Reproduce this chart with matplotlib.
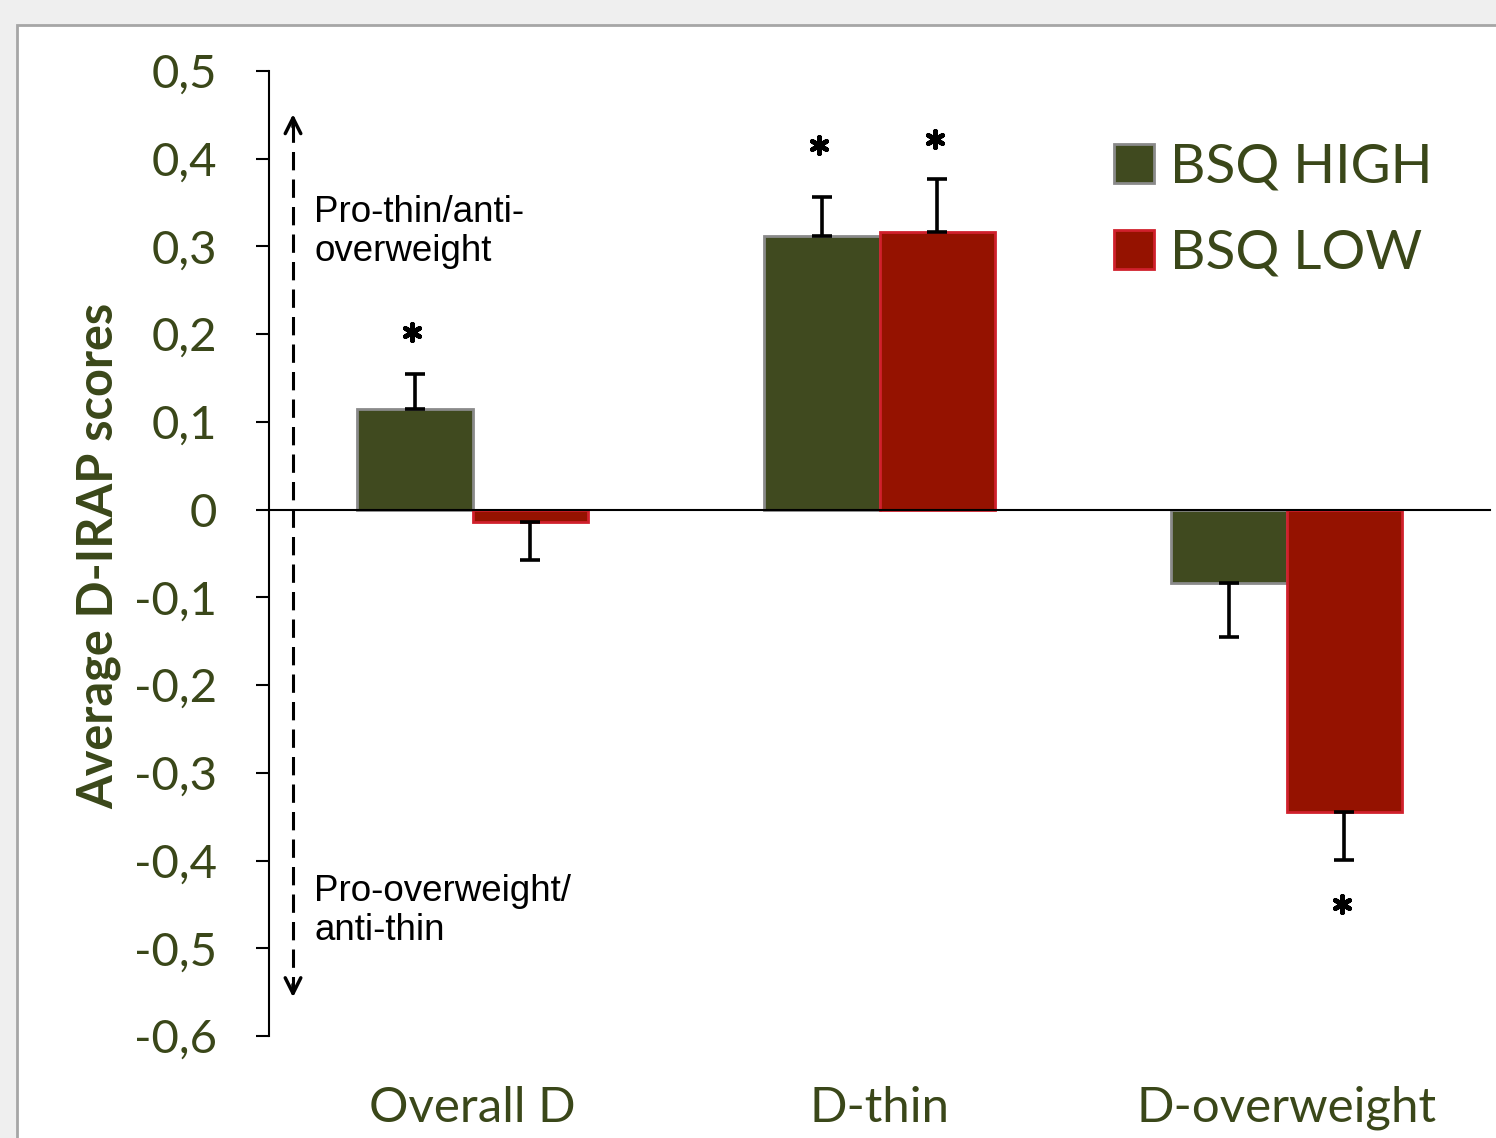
import numpy as np
import matplotlib
matplotlib.use('Agg')
import matplotlib.pyplot as plt
from matplotlib.patches import Rectangle

# mean D-IRAP scores per group
categories = ['Overall D', 'D-thin', 'D-overweight']
high = [0.115, 0.312, -0.084]
high_err = [0.040, 0.044, 0.061]
low = [-0.014, 0.316, -0.345]
low_err = [0.043, 0.061, 0.054]

# significance stars: (category, group offset sign, y)
star_cat = [0, 1, 1, 2]
star_grp = [-1, -1, 1, 1]
star_y = [0.203, 0.416, 0.422, -0.450]

yticks = [0.5, 0.4, 0.3, 0.2, 0.1, 0, -0.1, -0.2, -0.3, -0.4, -0.5, -0.6]

green_txt = '#3a4719'
c_high, e_high = '#404a1f', '#8a8a8a'
c_low, e_low = '#951200', '#d0202c'

fig = plt.figure(figsize=(14.96, 11.38), dpi=100, facecolor='#efefef')
fig.patches.append(Rectangle((17 / 1496, -0.01), 1.1, 1 - 25 / 1138 + 0.01,
                             transform=fig.transFigure, facecolor='white',
                             edgecolor='#a6a6a6', lw=2, zorder=-5))

ax = fig.add_axes([269 / 1496, 1 - 1036 / 1138, (1490 - 269) / 1496, (1036 - 71) / 1138])
ax.patch.set_alpha(0)

x = np.arange(len(categories))
w = 0.285


def one_sided(vals, errs):
    vals, errs = np.array(vals), np.array(errs)
    lower = np.where(vals < 0, errs, 0)
    upper = np.where(vals >= 0, errs, 0)
    return [lower, upper]


ekw = dict(ecolor='black', elinewidth=2.6, capsize=7.5, capthick=2.6)
ax.bar(x - w / 2, high, w, color=c_high, edgecolor=e_high, lw=2,
       yerr=one_sided(high, high_err), error_kw=ekw, label='BSQ HIGH', zorder=2)
ax.bar(x + w / 2, low, w, color=c_low, edgecolor=e_low, lw=2,
       yerr=one_sided(low, low_err), error_kw=ekw, label='BSQ LOW', zorder=2)

ax.scatter(x[star_cat] + np.array(star_grp) * w / 2 - 0.005, star_y, marker=(6, 2, 0),
           s=140, linewidths=3.4, color='black', zorder=3)

ax.set_xlim(-0.5, 2.5)
ax.set_ylim(-0.6, 0.5)
ax.spines['top'].set_visible(False)
ax.spines['right'].set_visible(False)
ax.spines['bottom'].set_position(('data', 0))
ax.spines['bottom'].set_linewidth(1.5)
ax.spines['left'].set_linewidth(1.5)
ax.set_xticks([])
ax.set_yticks(yticks)
ax.set_yticklabels([('%g' % t).replace('.', ',') for t in yticks],
                   fontfamily='Lato', fontsize=34, color=green_txt)
ax.tick_params(axis='y', direction='out', length=9.5, width=1.5, pad=28)

for xi, name in zip(x, categories):
    ax.text(xi, -0.0746, name, transform=ax.get_xaxis_transform(), ha='center', va='center',
            fontfamily='Lato', fontsize=35.5, color=green_txt)

fig.text(99 / 1496, 1 - 556 / 1138, 'Average D-IRAP scores', rotation=90, ha='center', va='center',
         fontfamily='Lato', fontweight='bold', fontsize=35, color=green_txt)

# dashed double arrow next to the axis
ax_x = -0.441
ax.plot([ax_x, ax_x], [0.44, -0.548], ls=(0, (6, 3)), color='black', lw=2.2, zorder=1)
ax.annotate('', xy=(ax_x, 0.454), xytext=(ax_x, 0.433),
            arrowprops=dict(arrowstyle='->', lw=2.5, mutation_scale=28, color='black'))
ax.annotate('', xy=(ax_x, -0.559), xytext=(ax_x, -0.538),
            arrowprops=dict(arrowstyle='->', lw=2.5, mutation_scale=28, color='black'))

ax.text(-0.389, 0.316, 'Pro-thin/anti-\noverweight', ha='left', va='center',
        fontfamily='Liberation Sans', fontsize=26.5, linespacing=1.15, color='black')
ax.text(-0.389, -0.458, 'Pro-overweight/\nanti-thin', ha='left', va='center',
        fontfamily='Liberation Sans', fontsize=26.5, linespacing=1.15, color='black')

leg = ax.legend(loc='upper left', bbox_to_anchor=(1087 / 1496, 1 - 115 / 1138),
                bbox_transform=fig.transFigure, frameon=False, borderpad=0,
                handlelength=0.72, handleheight=0.72, handletextpad=0.3, labelspacing=0.68,
                prop={'family': 'Lato', 'size': 39.5}, labelcolor=green_txt)

fig.savefig('out.png', dpi=100, facecolor=fig.get_facecolor())
